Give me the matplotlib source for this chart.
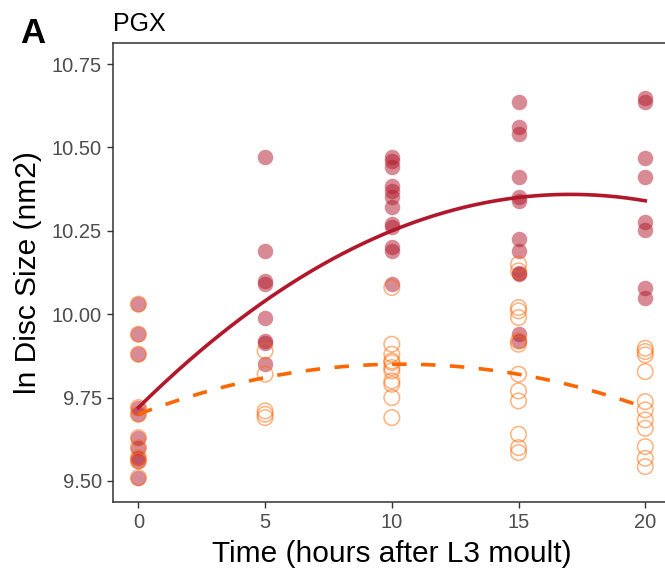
import matplotlib.pyplot as plt
import numpy as np

plt.rcParams['font.family'] = ['Liberation Sans', 'DejaVu Sans']

# time points (hours after L3 moult)
t_ctrl = [0] * 10 + [5] * 8 + [10] * 12 + [15] * 12 + [20] * 8
size_ctrl = [10.03, 9.94, 9.88, 9.72, 9.70, 9.63, 9.60, 9.57, 9.56, 9.51,
             10.47, 10.19, 10.09, 10.10, 9.99, 9.92, 9.915, 9.85,
             10.47, 10.46, 10.44, 10.385, 10.37, 10.35, 10.32, 10.27, 10.26, 10.20, 10.19, 10.09,
             10.635, 10.56, 10.54, 10.41, 10.35, 10.34, 10.225, 10.19, 10.125, 10.12, 9.94, 9.92,
             10.647, 10.637, 10.467, 10.41, 10.277, 10.252, 10.078, 10.048]

t_trt = [0] * 10 + [5] * 5 + [10] * 11 + [15] * 13 + [20] * 11
size_trt = [10.03, 9.94, 9.88, 9.72, 9.70, 9.63, 9.60, 9.57, 9.56, 9.51,
            9.89, 9.82, 9.71, 9.70, 9.69,
            10.08, 9.91, 9.88, 9.86, 9.855, 9.84, 9.83, 9.80, 9.79, 9.75, 9.69,
            10.15, 10.13, 10.02, 10.01, 9.99, 9.92, 9.91, 9.82, 9.77, 9.74, 9.64, 9.60, 9.585,
            9.898, 9.888, 9.878, 9.828, 9.738, 9.713, 9.683, 9.658, 9.603, 9.568, 9.543]

# fitted quadratic curves (a*t^2 + b*t + c)
fit_ctrl = [-0.0022, 0.075, 9.72]
fit_trt = [-0.0014, 0.029, 9.70]

red = '#B2182B'
orange = '#FF6600'

fig = plt.figure(figsize=(6.65, 5.72), dpi=100)
ax = fig.add_axes([0.170, 0.1224, 0.8384, 0.8024])

ax.scatter(t_ctrl, size_ctrl, s=125, color=red, alpha=0.5, linewidths=0, zorder=2)
ax.scatter(t_trt, size_trt, s=125, facecolors='none', edgecolors=orange, alpha=0.5,
           linewidths=1.1, zorder=2)

tt = np.linspace(0, 20, 200)
ax.plot(tt, np.polyval(fit_ctrl, tt), color=red, lw=2.6, zorder=3)
ax.plot(tt, np.polyval(fit_trt, tt), color=orange, lw=2.6, ls=(0, (4, 4)), zorder=3)

ax.set_xlim(-1, 21)
ax.set_ylim(9.437, 10.813)
ax.set_xticks([0, 5, 10, 15, 20])
ax.set_yticks([9.50, 9.75, 10.00, 10.25, 10.50, 10.75])
ax.set_yticklabels(['9.50', '9.75', '10.00', '10.25', '10.50', '10.75'])
ax.tick_params(colors='#333333', labelcolor='#4D4D4D', labelsize=14.5, length=4.5, width=1)
ax.spines['right'].set_visible(False)
for s in ['left', 'bottom', 'top']:
    ax.spines[s].set_color('#333333')
    ax.spines[s].set_linewidth(1.1)

ax.set_xlabel('Time (hours after L3 moult)', fontsize=21.5, labelpad=6)
ax.set_ylabel('ln Disc Size (nm2)', fontsize=21.5, labelpad=7)
ax.set_title('PGX', loc='left', fontsize=18, pad=9)
fig.text(0.03, 0.925, 'A', fontsize=25, fontweight='bold')

plt.savefig('out.png')
